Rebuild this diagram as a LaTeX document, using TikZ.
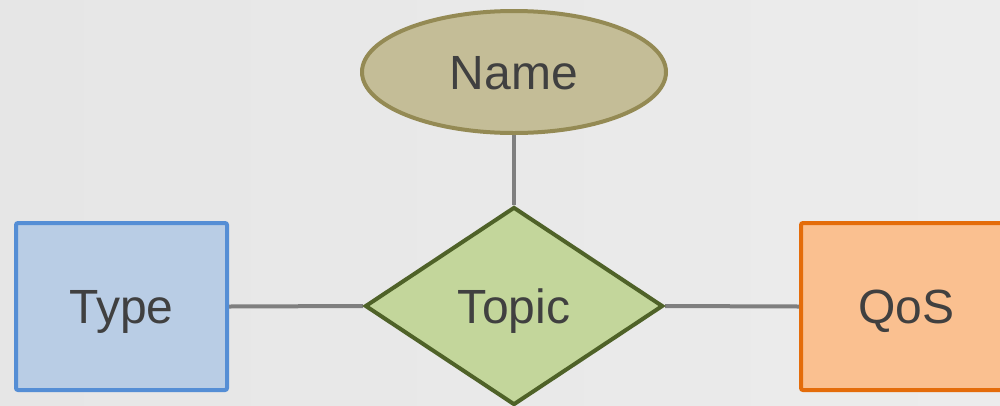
\documentclass[tikz,border=0pt]{standalone}
\usepackage{fontspec}
\setmainfont{Liberation Sans}
\usepackage{xcolor}
\usepackage{tikz}
\usetikzlibrary{backgrounds,shapes.geometric}
\definecolor{canvas}{HTML}{E6E6E6}
\definecolor{canvaslight}{HTML}{ECECEC}
\definecolor{ink}{HTML}{404040}
\definecolor{linkgray}{HTML}{7F7F7F}
\definecolor{attrtan}{HTML}{C4BD97}
\definecolor{attrtanedge}{HTML}{948A54}
\definecolor{relgreen}{HTML}{C3D69B}
\definecolor{relgreenedge}{HTML}{4F6228}
\definecolor{typeblue}{HTML}{B9CDE5}
\definecolor{typeblueedge}{HTML}{558ED5}
\definecolor{qosorange}{HTML}{FAC090}
\definecolor{qosorangeedge}{HTML}{E46C0A}
\tikzset{
  link/.style={draw=linkgray,line width=4pt},
  % caps sit on the centre of each shape
  base/.style={line width=4pt,inner sep=0pt,text=ink,
               text height=34.4pt,text depth=0pt,
               font=\fontsize{48}{58}\selectfont},
  attribute/.style={base,ellipse,fill=attrtan,draw=attrtanedge,
                    minimum width=304pt,minimum height=122pt},
  relation/.style={base,diamond,aspect=1.5,fill=relgreen,draw=relgreenedge,
                   minimum width=298pt,minimum height=198pt},
  entity/.style={base,rectangle,rounded corners=2pt,
                 minimum width=211pt,minimum height=167pt}
}
\begin{document}
\begin{tikzpicture}[x=1pt,y=-1pt]
  \useasboundingbox (0,0) rectangle (1000,405);
  \node[attribute] (name) at (514,72) {Name};
  \node[relation] (topic) at (514,306) {Topic};
  \node[entity,fill=typeblue,draw=typeblueedge] (type) at (121.5,306.5) {Type};
  \node[entity,fill=qosorange,draw=qosorangeedge] (qos) at (906.5,306.5) {QoS};
  \begin{scope}[on background layer]
    \shade[left color=canvas,right color=canvaslight] (0,0) rectangle (1000,405);
    \draw[link] (name.south) -- (topic.north);
    \draw[link] (type.east) -- (topic.west);
    \draw[link] (topic.east) -- (qos.west);
  \end{scope}
\end{tikzpicture}
\end{document}
